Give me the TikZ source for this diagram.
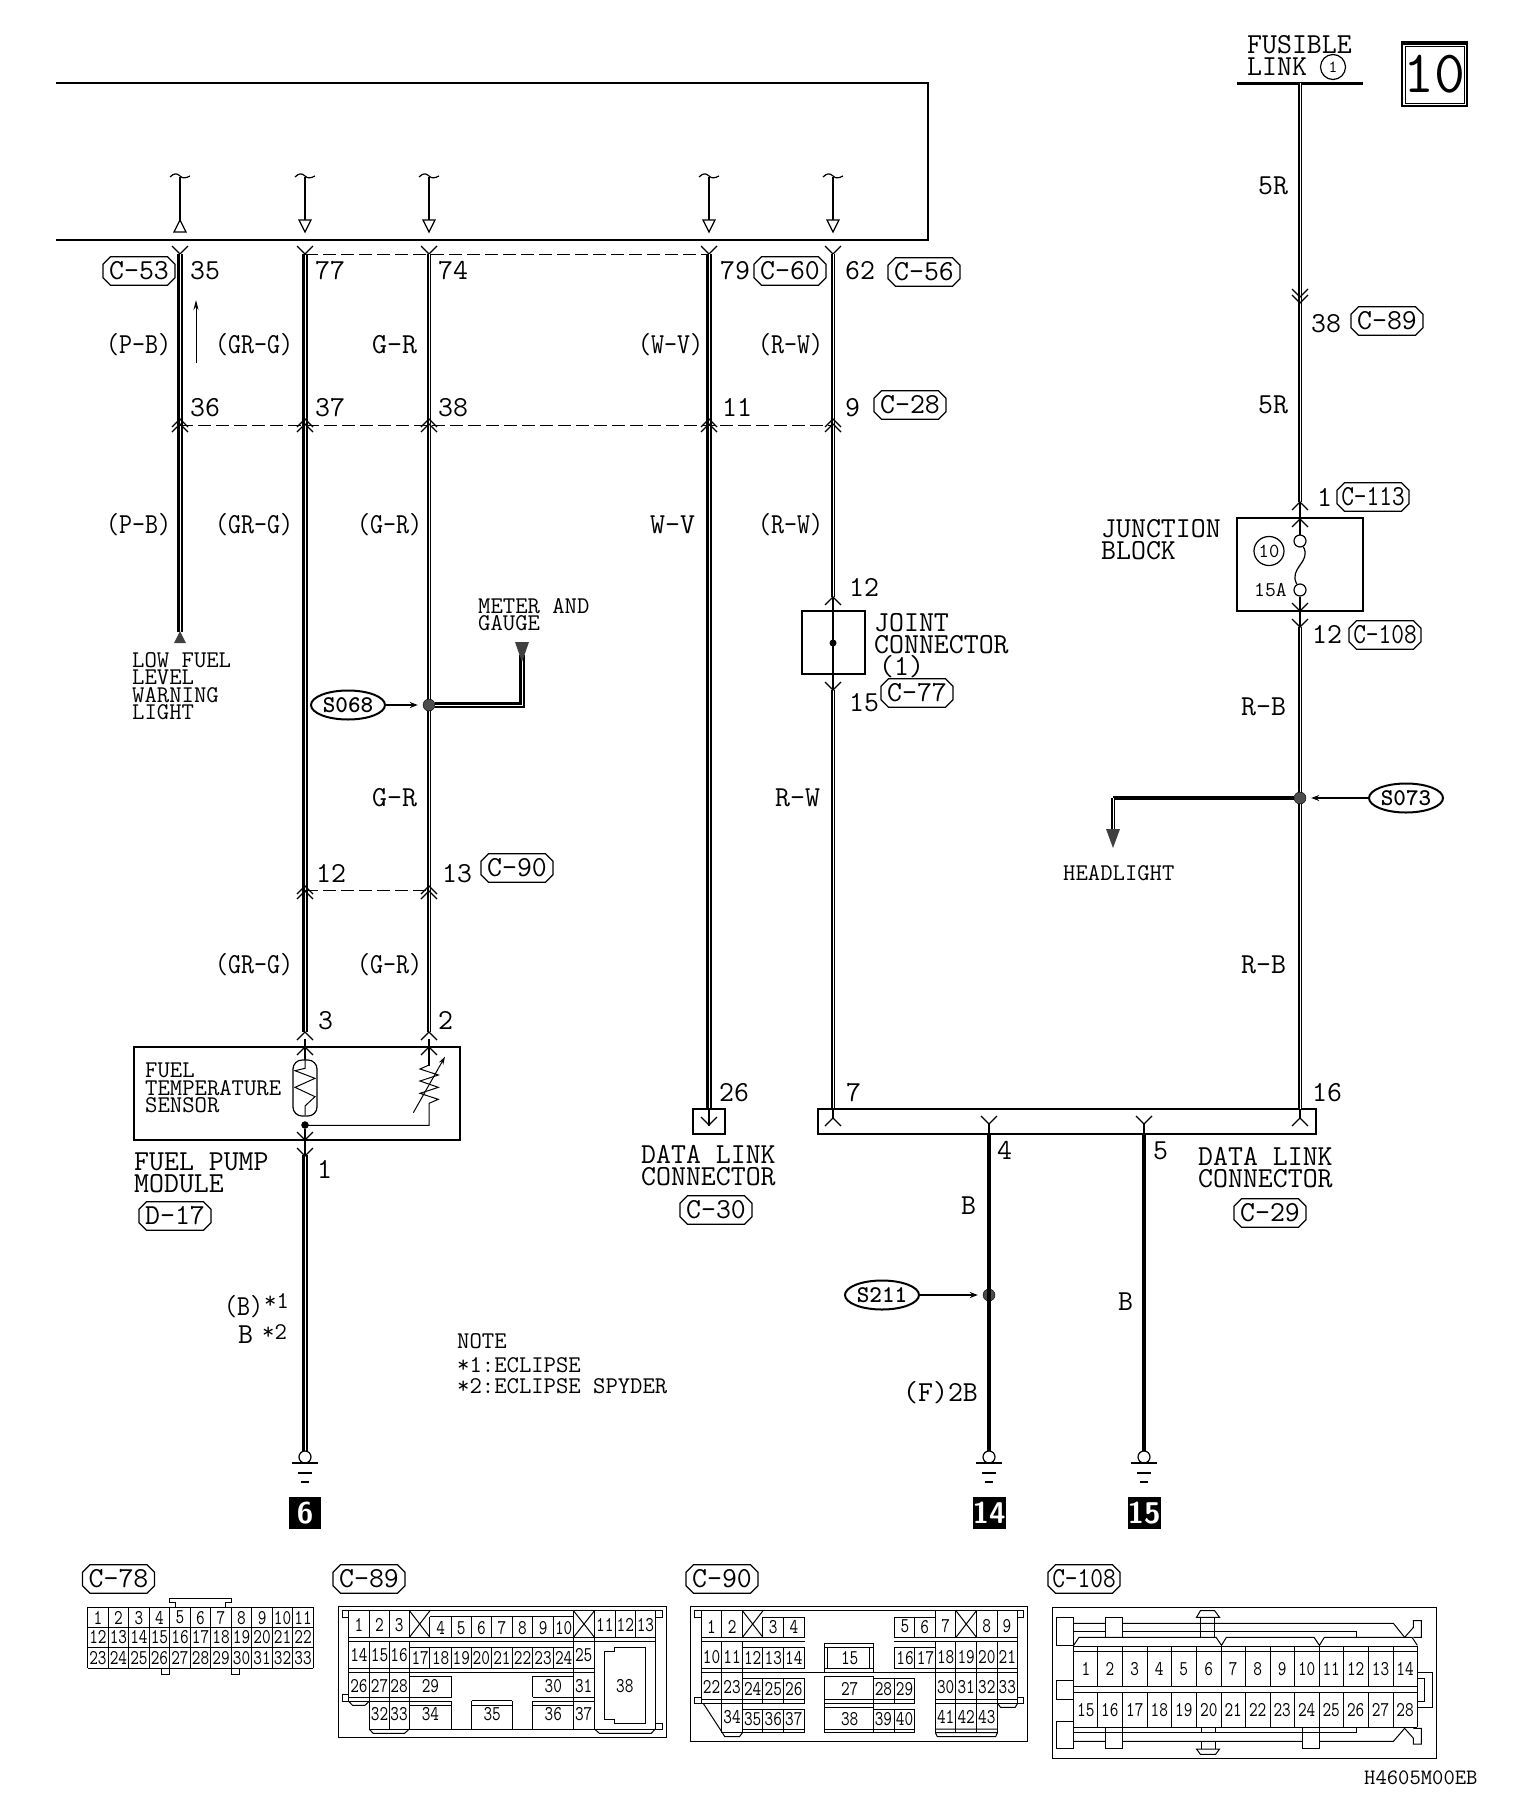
\documentclass[tikz,border=0pt]{standalone}
\usetikzlibrary{shapes.geometric,shapes.misc,arrows.meta}
\newcommand\fA{\fontsize{29}{22}\selectfont\ttfamily\lineskiplimit=-100pt }
\newcommand\fB{\fontsize{24}{17.5}\selectfont\ttfamily\lineskiplimit=-100pt }
\newcommand\fC{\fontsize{21}{21}\selectfont\ttfamily}
\newcommand\cellnum[1]{\scalebox{.8}[1]{\fC #1}}
\newcommand\nar[1]{\scalebox{.87}[1]{#1}}
\newcommand\chU[2]{\draw[thinl] ({#1-8},{#2+8})--(#1,#2)--({#1+8},{#2+8});}
\newcommand\chD[2]{\draw[thinl] ({#1-8},{#2-8})--(#1,#2)--({#1+8},{#2-8});}
\newcommand\stub[2]{\draw[thinl] (#1,177)--(#1,#2);
  \draw[thinl] ({#1-10},177) .. controls ({#1-6},173) and ({#1-3},173) .. (#1,176) .. controls ({#1+3},179) and ({#1+6},178) .. ({#1+10},176);}
\tikzset{
  thinl/.style={line width=1.2pt},
  cl/.style={line width=1pt},
  wirea/.style={line width=1.9pt,double=white,double distance=1pt},
  wireb/.style={line width=2.4pt,double=white,double distance=.6pt},
  wirec/.style={line width=4pt},
  dashl/.style={line width=.9pt,dash pattern=on 13pt off 5pt},
  lab/.style={anchor=base west,inner sep=0pt,font=\fA},
  labs/.style={anchor=base west,inner sep=0pt,font=\fB},
  mlab/.style={anchor=north west,inner sep=0pt,align=left},
  cbox/.style={draw,thinl,chamfered rectangle,chamfered rectangle xsep=2.5pt,chamfered rectangle ysep=5pt,inner sep=0pt,
    minimum width=72pt,minimum height=26pt,font=\fA},
  splice/.style={draw,ellipse,line width=2pt,minimum width=74pt,minimum height=29pt,inner sep=0pt,font=\fB\bfseries},
  jdot/.style={circle,fill=black!70,draw=black,inner sep=0pt,minimum size=12pt},
  gnum/.style={fill=black,text=white,inner sep=0pt,minimum width=32pt,minimum height=32pt,
    font=\fontsize{30}{30}\selectfont\sffamily\bfseries},
  barb/.style={-{Stealth[open,length=8pt,width=6pt]},thinl,shorten >=5pt},
  cell/.style={inner sep=0pt,anchor=center},
}
\begin{document}
\begin{tikzpicture}[x=1pt,y=-1pt]
\useasboundingbox (0,0) rectangle (1536,1804);
% frame of the control unit
\draw[thinl] (56,83)--(928,83)--(928,240)--(56,240);
% top stubs
\stub{180}{220}\draw[thinl] (174,232)--(186,232)--(180,220)--cycle;
\foreach \x in {305,429,709,833}{\stub{\x}{220}\draw[thinl] (\x-6,220)--(\x+6,220)--(\x,232)--cycle;}
% wire coordinates
\foreach \n/\x in {a/180,b/305,c/429,d/709,e/833}{\coordinate (\n t) at (\x,254);\chD{\x}{254}}
\coordinate (ab) at (180,632);
\coordinate (bb) at (305,1032);
\coordinate (cb) at (429,1032);
\coordinate (db) at (709,1109);
\coordinate (eb) at (833,597);
\coordinate (e2) at (833,690);
\coordinate (e3) at (833,1109);
\coordinate (bt2) at (305,1155);
\coordinate (bg) at (305,1451);
\draw[wireb] (at)--(ab);
\draw[wireb] (bt)--(bb);
\draw[wirea] (ct)--(cb);
\draw[wireb] (dt)--(db);
\draw[wirea] (et)--(eb);
\draw[wirea] (e2)--(e3);
\draw[wireb] (bt2)--(bg);
% dashed ties
\draw[dashl] (bt)--(dt);
\draw[dashl] (180,425)--(833,425);
\draw[dashl] (305,890)--(429,890);
\foreach \x in {180,305,429,709,833}{\chU{\x}{419}\chU{\x}{424}}
\foreach \x in {305,429}{\chU{\x}{886}\chU{\x}{891}}
% current arrow
\draw[-{Stealth[length=10pt,width=5pt]},cl] (196,363)--(196,300);
% labels upper row
\node[cbox] (c53) at (139,271) {C-53};
\node[lab] (n35) at (190,279) {35};
\node[lab] (n77) at (315,279) {77};
\node[lab] (n74) at (438,279) {74};
\node[lab] (n79) at (720,279) {79};
\node[cbox] (c60) at (790,271) {C-60};
\node[lab] (n62) at (845,279) {62};
\node[cbox] (c56) at (924,272) {C-56};
\node[lab] (l1) at (106,353) {\nar{(P-B)}};
\node[lab] (l2) at (215,353) {\nar{(GR-G)}};
\node[lab] (l3) at (372,353) {G-R};
\node[lab] (l4) at (638,353) {\nar{(W-V)}};
\node[lab] (l5) at (758,353) {\nar{(R-W)}};
\node[lab] (n36) at (190,416) {36};
\node[lab] (n37) at (315,416) {37};
\node[lab] (n38) at (438,416) {38};
\node[lab] (n11) at (722,416) {11};
\node[lab] (n9) at (845,416) {9};
\node[cbox] (c28) at (910,405) {C-28};
\node[lab] (l6) at (106,533) {\nar{(P-B)}};
\node[lab] (l7) at (215,533) {\nar{(GR-G)}};
\node[lab] (l8) at (357,533) {\nar{(G-R)}};
\node[lab] (l9) at (650,533) {W-V};
\node[lab] (l10) at (758,533) {\nar{(R-W)}};
% low fuel
\fill[black!75] (174,643)--(186,643)--(180,631)--cycle;
\node[mlab,font=\fB] (lowfuel) at (132,652) {LOW FUEL\\LEVEL\\WARNING\\LIGHT};
% meter and gauge branch
\node[mlab,font=\fB] (meter) at (478,598) {METER AND\\GAUGE};
\node[jdot] (s1) at (429,705) {};
\coordinate (mtip) at (522,655);
\draw[wireb] (s1)--(522,705)--(mtip);
\fill[black!75] (515,642)--(529,642)--(522,662)--cycle;
\node[splice] (s068) at (348,705) {S068};
\draw[barb] (s068)--(s1);
% lower labels on left pair
\node[lab] (l11) at (372,806) {G-R};
\node[lab] (l12) at (775,806) {R-W};
\node[lab] (n12a) at (316,882) {12};
\node[lab] (n13) at (442,882) {13};
\node[cbox] (c90a) at (517,868) {C-90};
\node[lab] (l13) at (215,973) {\nar{(GR-G)}};
\node[lab] (l14) at (357,973) {\nar{(G-R)}};
\node[lab] (n3) at (318,1029) {3};
\node[lab] (n2) at (438,1029) {2};
% sensor box
\draw[thinl] (134,1047) rectangle (460,1140);
\chU{305}{1032}\chU{429}{1032}\chU{305}{1047}\chU{429}{1047}
\draw[thinl] (305,1039)--(305,1060);
\draw[thinl] (429,1039)--(429,1066);
\draw[thinl,rounded corners=9pt] (293,1060) rectangle (317,1116);
\begin{scope}[shift={(80,1000)},x=.33333pt,y=-.33333pt]
\draw[cl] (675,180)--(675,205)--(645,212)--(705,235)--(645,262)--(705,290)--(675,318)--(675,345);
\draw[cl] (1047,195)--(1020,207)--(1075,225)--(1020,243)--(1075,262)--(1020,280)--(1075,298)--(1047,310)--(1047,376)--(675,376);
\draw[cl,-{Stealth[length=8pt,width=5pt,open]}] (1000,338)--(1095,170);
\end{scope}
\node[jdot,minimum size=7pt,fill=black] (tdot) at (305,1125) {};
\draw[thinl] (tdot)--(305,1155);
\chD{305}{1140}\chD{305}{1156}
\node[mlab,font=\fB] (fts) at (145,1063) {FUEL\\TEMPERATURE\\SENSOR};
\node[mlab,font=\fA] (fpm) at (134,1153) {FUEL PUMP\\MODULE};
\node[cbox] (d17) at (175,1216) {D-17};
\node[lab] (n1a) at (317,1178) {1};
\node[lab] (b1) at (224,1315) {\nar{(B)}};
\node[labs] (s1a) at (264,1308) {*1};
\node[lab] (b2) at (238,1343) {B};
\node[labs] (s2a) at (262,1339) {*2};
\node[labs] (note) at (457,1348) {NOTE};
\node[labs] (note1) at (457,1372) {*1:ECLIPSE};
\node[labs] (note2) at (457,1393) {*2:ECLIPSE SPYDER};
% grounds
\foreach \n/\x/\t in {g1/305/6,g2/989/14,g3/1144/15}{
  \draw[thinl] (\x,1457) circle (6pt);
  \draw[line width=1.4pt] (\x-13,1463)--(\x+13,1463) (\x-7,1473)--(\x+7,1473) (\x-4,1482)--(\x+4,1482);
  \node[gnum] (\n) at (\x,1513) {\t};
}
% data link 26
\draw[thinl] (693,1109) rectangle (725,1134);
\draw[thinl] (709,1109)--(709,1126);
\chD{709}{1125}
\node[lab] (n26) at (719,1101) {26};
\node[mlab,font=\fA] (dlc1) at (641,1145) {DATA LINK\\CONNECTOR};
\node[cbox] (c30) at (716,1210) {C-30};
% joint connector
\draw[thinl] (802,611) rectangle (865,674);
\chU{833}{597}
\draw[thinl] (833,597)--(833,690);
\chD{833}{690}
\fill (833,643) circle (3.5pt);
\node[lab] (n12j) at (849,596) {12};
\node[mlab,font=\fA] (jc) at (874,613) {JOINT\\CONNECTOR\\\hspace{5pt}(1)};
\node[lab] (n15) at (849,711) {15};
\node[cbox] (c77) at (917,693) {C-77};
% data link bar
\draw[thinl] (818,1109) rectangle (1316,1134);
\chU{833}{1118}\chU{1300}{1118}
\chD{989}{1124}\chD{1144}{1124}
\draw[thinl] (833,1109)--(833,1118) (1300,1109)--(1300,1118) (989,1124)--(989,1134) (1144,1124)--(1144,1134);
\node[lab] (n7) at (846,1101) {7};
\node[lab] (n16) at (1312,1101) {16};
\node[lab] (n4) at (997,1159) {4};
\node[lab] (n5) at (1153,1159) {5};
\node[mlab,font=\fA] (dlc2) at (1198,1147) {DATA LINK\\CONNECTOR};
\node[cbox] (c29) at (1270,1213) {C-29};
% black wires
\node[jdot] (s2) at (989,1295) {};
\coordinate (w4) at (989,1134);
\coordinate (w4g) at (989,1451);
\coordinate (w5) at (1144,1134);
\coordinate (w5g) at (1144,1451);
\draw[wirec] (w4)--(w4g);
\draw[wirec] (w5)--(w5g);
\node[splice] (s211) at (882,1295) {S211};
\draw[barb] (s211)--(s2);
\node[lab] (l15) at (961,1214) {B};
\node[lab] (l16) at (1118,1310) {B};
\node[lab] (l17) at (903,1401) {(F)2B};
% right column
\node[mlab,font=\fA] (fl) at (1247,35) {FUSIBLE\\LINK};
\node[draw,circle,thinl,minimum size=25pt,inner sep=0pt,font=\fontsize{17}{17}\selectfont\ttfamily] (fc) at (1333,67) {1};
\draw[line width=3pt] (1237,83)--(1363,83);
\coordinate (r0) at (1300,83);
\coordinate (r1) at (1300,502);
\coordinate (r2) at (1300,627);
\coordinate (r3) at (1300,1109);
\draw[wirea] (r0)--(r1);
\draw[wirea] (r2)--(r3);
\chD{1300}{297}\chD{1300}{303}
\node[lab] (l18) at (1258,194) {5R};
\node[lab] (n38b) at (1311,332) {38};
\node[cbox] (c89a) at (1387,321) {C-89};
\node[lab] (l19) at (1258,413) {5R};
\node[lab] (n1b) at (1317,506) {1};
\node[cbox] (c113) at (1373,497) {\scalebox{.85}[1]{C-113}};
\node[mlab,font=\fA] (jb) at (1101,519) {JUNCTION\\BLOCK};
\draw[thinl] (1237,518) rectangle (1363,611);
\chU{1300}{502}\chU{1300}{519}
\draw[thinl] (1300,502)--(1300,535);
\node[draw,circle,thinl,minimum size=12pt,inner sep=0pt] (f1) at (1300,541) {};
\node[draw,circle,thinl,minimum size=12pt,inner sep=0pt] (f2) at (1300,590) {};
\draw[thinl] (f1) .. controls (1312,562) and (1288,568) .. (f2);
\draw[thinl] (f2)--(1300,627);
\node[draw,ellipse,thinl,minimum width=30pt,minimum height=29pt,inner sep=0pt,font=\fontsize{20}{20}\selectfont\ttfamily] (c10) at (1269,551) {10};
\node[anchor=base west,inner sep=0pt,font=\fC] (a15) at (1254,596) {15A};
\chD{1300}{611}\chD{1300}{627}
\node[lab] (n12b) at (1312,643) {12};
\node[cbox] (c108a) at (1385,635) {\scalebox{.85}[1]{C-108}};
\node[lab] (l20) at (1241,715) {R-B};
\node[lab] (l21) at (1241,973) {R-B};
% headlight branch
\node[jdot] (s3) at (1300,798) {};
\coordinate (hk) at (1113,798);
\coordinate (hb) at (1113,835);
\draw[wirec] (s3)--(hk);
\draw[wirea] (hk)--(hb);
\fill[black!75] (1106,829)--(1120,829)--(1113,848)--cycle;
\node[labs] (hl) at (1063,880) {HEADLIGHT};
\node[splice] (s073) at (1406,798) {S073};
\draw[barb] (s073)--(s3);
% diagram number
\draw[line width=1.4pt] (1402,42) rectangle (1467,106);
\draw[line width=1pt] (1405,46) rectangle (1464,103);
\draw[line width=3pt] (1402,43)--(1467,43);
\node[inner sep=0pt,font=\fontsize{60}{60}\selectfont\ttfamily] (num10) at (1434,74) {10};
% connector codes
\node[cbox] (k78) at (118.5,1579) {C-78};
\node[cbox] (k89) at (369,1579) {C-89};
\node[cbox] (k90) at (722,1579) {C-90};
\node[cbox] (k108) at (1084,1579) {\scalebox{.85}[1]{C-108}};
\node[anchor=base west,inner sep=0pt,font=\fontsize{22}{22}\selectfont\ttfamily] (code) at (1364,1784) {H4605M00EB};
% connector faces, in a scope of 2.042 x 3 crop pixels
\begin{scope}[shift={(0,1540)},x=.48972pt,y=-.33333pt,every path/.style={cl}]
%%% C-78
\foreach \i in {0,...,11}{\draw ({179+\i*41.9},202)--({179+\i*41.9},385);}
\foreach \y in {202,262,322,385}{\draw (179,\y)--(640,\y);}
\draw (358,202)--(358,188)--(346,188)--(346,175)--(473,175)--(473,188)--(460,188)--(460,202);
\draw (330,385)--(330,403)--(346,403)--(346,385) (473,385)--(473,403)--(489,403)--(489,385);
\foreach \i in {1,...,11}{
  \pgfmathsetmacro\px{179+(\i-.5)*41.9}
  \pgfmathtruncatemacro\na{\i+11}\pgfmathtruncatemacro\nb{\i+22}
  \node[cell] at (\px,233) {\cellnum{\i}};
  \node[cell] at (\px,292) {\cellnum{\na}};
  \node[cell] at (\px,353) {\cellnum{\nb}};
}
%%% C-89
\draw (691,200) rectangle (1361,592);
\draw (712,212)--(1338,212);
\draw (712,212)--(699,212)--(699,232)--(712,232) (1338,212)--(1352,212)--(1352,232)--(1338,232);
\draw (712,464)--(699,464)--(699,484)--(712,484) (1338,550)--(1352,550)--(1352,567)--(1338,567);
\draw (712,212)--(712,484) (1338,212)--(1338,567);
\draw (712,292)--(1338,292) (712,304)--(1338,304);
\draw (878,230)--(1171,230);
\draw (836,212)--(878,292) (878,212)--(836,292) (1171,212)--(1214,292) (1214,212)--(1171,292);
\foreach \x in {754,795,836}{\draw (\x,212)--(\x,292) (\x,304)--(\x,484);}
\foreach \x in {878,922,963,1003,1046,1088,1130}{\draw (\x,230)--(\x,292);}
\foreach \x in {1256,1297}{\draw (\x,212)--(\x,292);}
\draw (1171,212)--(1171,567) (1214,212)--(1214,567);
\draw (836,322)--(1171,322);
\foreach \x in {878,922,963,1003,1046,1088,1130}{\draw (\x,322)--(\x,385);}
\draw (712,385)--(1214,385) (712,397)--(1214,397);
\draw (836,409)--(922,409)--(922,472) (1088,409)--(1171,409) (1088,409)--(1088,472);
\draw (712,472)--(922,472) (712,484)--(922,484) (1088,472)--(1214,472) (1088,484)--(1214,484);
\draw (963,482)--(1046,482) (836,496)--(922,496) (963,496)--(1046,496) (1088,496)--(1171,496);
\draw (712,484)--(720,496)--(745,496)--(754,484);
\draw (754,484)--(754,567) (795,484)--(795,567) (836,484)--(836,567) (922,484)--(922,567) (963,482)--(963,567) (1046,482)--(1046,567) (1088,484)--(1088,567);
\draw (754,567)--(1338,567);
\draw (754,567)--(762,580)--(826,580)--(836,567) (1214,567)--(1224,580)--(1330,580)--(1338,567);
\draw (1255,322)--(1318,322)--(1318,550)--(1255,550)--(1255,538)--(1235,538)--(1235,334)--(1255,334)--cycle;
\foreach \n/\x/\y in {1/733/255,2/775/255,3/815/255,4/900/265,5/942/265,6/983/265,7/1025/265,8/1067/265,9/1109/265,10/1151/265,11/1235/255,12/1277/255,13/1318/255,
 14/733/345,15/775/345,16/815/345,17/858/355,18/900/355,19/942/355,20/983/355,21/1025/355,22/1067/355,23/1109/355,24/1151/355,25/1192/345,
 26/733/437,27/775/437,28/815/437,29/879/437,30/1130/437,31/1192/437,32/775/523,33/815/523,34/879/523,35/1005/523,36/1130/523,37/1192/523,38/1276/437}
 {\node[cell] at (\x,\y) {\cellnum{\n}};}
%%% C-90
\draw (1411,200) rectangle (2098,604);
\draw (1432,212)--(2078,212);
\draw (1432,212)--(1419,212)--(1419,232)--(1432,232) (2078,212)--(2090,212)--(2090,232)--(2078,232);
\draw (1432,472)--(1419,472)--(1419,490)--(1432,490) (2078,472)--(2090,472)--(2090,490)--(2078,490);
\draw (1432,212)--(1432,490) (2078,212)--(2078,490);
\draw (1474,212)--(1474,292) (1516,212)--(1516,292);
\draw (1516,212)--(1558,292) (1558,212)--(1516,292) (1952,212)--(1994,292) (1994,212)--(1952,292);
\draw (1558,232)--(1643,232) (1558,232)--(1558,292) (1600,232)--(1600,292) (1643,232)--(1643,292);
\draw (1826,232)--(1910,232) (1826,232)--(1826,292) (1868,232)--(1868,292);
\draw (1910,212)--(1910,292) (1952,212)--(1952,292) (1994,212)--(1994,292) (2037,212)--(2037,292);
\draw (1432,292)--(1643,292) (1432,304)--(1643,304) (1826,292)--(2078,292) (1826,304)--(2078,304);
\draw (1474,304)--(1474,490) (1516,304)--(1516,490);
\draw (1516,322)--(1643,322) (1558,322)--(1558,385) (1600,322)--(1600,385) (1643,322)--(1643,385);
\draw (1826,322)--(1910,322) (1826,322)--(1826,385) (1868,322)--(1868,385);
\draw (1910,304)--(1910,490) (1952,304)--(1952,490) (1994,304)--(1994,490) (2037,304)--(2037,490);
\draw (1432,385)--(1643,385) (1432,397)--(2078,397) (1826,385)--(2078,385);
\draw (1683,310)--(1783,310) (1683,322)--(1783,322) (1683,310)--(1683,397) (1783,310)--(1783,397) (1690,322)--(1690,385) (1776,322)--(1776,385) (1683,385)--(1783,385);
\draw (1683,409)--(1783,409) (1783,415)--(1868,415) (1516,415)--(1643,415);
\draw (1558,415)--(1558,490) (1600,415)--(1600,490) (1643,415)--(1643,490);
\draw (1683,409)--(1683,578) (1783,409)--(1783,578) (1826,415)--(1826,490) (1868,415)--(1868,490);
\draw (1432,478)--(1643,478) (1432,490)--(1643,490) (1683,478)--(1868,478) (1683,490)--(1868,490) (1910,478)--(2078,478) (1910,490)--(2078,490);
\draw (2037,490)--(2043,502)--(2073,502)--(2078,490);
\draw (1436,490)--(1475,578)--(1480,590)--(1510,590)--(1516,578);
\draw (1474,490)--(1474,578) (1516,490)--(1516,578);
\draw (1516,508)--(1643,508) (1558,508)--(1558,578) (1600,508)--(1600,578) (1643,508)--(1643,578);
\draw (1683,503)--(1783,503) (1783,508)--(1868,508) (1826,508)--(1826,578) (1868,508)--(1868,578);
\draw (1516,567)--(1643,567) (1474,578)--(1643,578) (1683,567)--(1868,567) (1683,578)--(1868,578);
\draw (1910,490)--(1910,578) (1952,490)--(1952,578) (1994,490)--(1994,578) (2037,490)--(2037,578);
\draw (1910,567)--(2037,567) (1910,578)--(2037,578) (1910,578)--(1914,590)--(2033,590)--(2037,578);
\foreach \n/\x/\y in {1/1453/260,2/1495/260,3/1579/260,4/1621/260,5/1848/260,6/1888/260,7/1931/258,8/2015/258,9/2056/258,
 10/1453/352,11/1495/352,12/1537/355,13/1579/355,14/1621/355,15/1735/355,16/1848/355,17/1890/355,18/1931/350,19/1973/350,20/2015/350,21/2057/350,
 22/1453/440,23/1495/440,24/1537/447,25/1579/447,26/1621/447,27/1735/447,28/1804/447,29/1847/447,30/1931/440,31/1973/440,32/2015/440,33/2057/440,
 34/1495/530,35/1537/537,36/1579/537,37/1621/537,38/1735/537,39/1804/537,40/1847/537,41/1931/530,42/1973/530,43/2015/530}
 {\node[cell] at (\x,\y) {\cellnum{\n}};}
\end{scope}
%%% C-108: x pixels of the second crop
\begin{scope}[shift={(768,1540)},x=.48972pt,y=-.33333pt,every path/.style={cl}]
\draw (581,202) rectangle (1365,655);
\draw (624,318)--(1326,318) (624,333)--(1326,333) (624,438)--(1326,438) (624,457)--(1326,457) (624,562)--(1326,562) (624,578)--(1202,578)--(1202,562);
\foreach \x in {624,673,724,775,824,875,926,975,1026,1075,1126,1175,1226,1277,1326}{\draw (\x,318)--(\x,438) (\x,457)--(\x,562);}
\draw (624,232)--(590,232)--(590,316)--(624,316)--cycle;
\draw (624,422)--(590,422)--(590,478)--(624,478);
\draw (624,545)--(590,545)--(590,625)--(624,625)--cycle;
\draw (624,438)--(624,457) (1326,438)--(1326,457) (1326,318)--(1326,562);
% top
\draw (689,292)--(689,232)--(724,232)--(724,292);
\draw (624,250)--(689,250) (724,250)--(1277,250)--(1300,292);
\draw (624,273)--(689,273) (724,273)--(1202,273)--(1202,292);
\draw (624,316)--(635,292)--(915,292)--(926,316)--(936,292)--(1115,292)--(1126,316)--(1136,292)--(1315,292)--(1326,316);
\draw (883,212)--(912,212)--(922,232)--(875,232)--cycle;
\draw (883,232)--(883,292) (912,232)--(912,292);
\draw (1300,292)--(1318,262)--(1318,242)--(1334,242)--(1334,292)--(1318,292);
% bottom
\draw (689,562)--(689,625)--(724,625)--(724,562);
\draw (1092,562)--(1092,625)--(1126,625)--(1126,562);
\draw (624,604)--(689,604) (724,604)--(1092,604) (1126,604)--(1277,604)--(1300,565);
\draw (885,562)--(885,578) (914,562)--(914,578) (885,604)--(885,627) (914,604)--(914,627);
\draw (875,627)--(922,627)--(914,643)--(883,643)--cycle;
\draw (1300,565)--(1318,595)--(1318,612)--(1334,612)--(1334,565)--(1318,565);
% right clip
\draw (1326,398)--(1357,398)--(1357,502)--(1326,502) (1326,415)--(1340,415)--(1340,485)--(1326,485);
\foreach \n/\x in {1/649,2/698,3/749,4/799,5/849,6/900,7/950,8/1000,9/1050,10/1100,11/1150,12/1200,13/1251,14/1301}
 {\pgfmathtruncatemacro\m{\n+14}
  \node[cell] at (\x,388) {\cellnum{\n}};
  \node[cell] at (\x,510) {\cellnum{\m}};}
\end{scope}
\end{tikzpicture}
\end{document}
